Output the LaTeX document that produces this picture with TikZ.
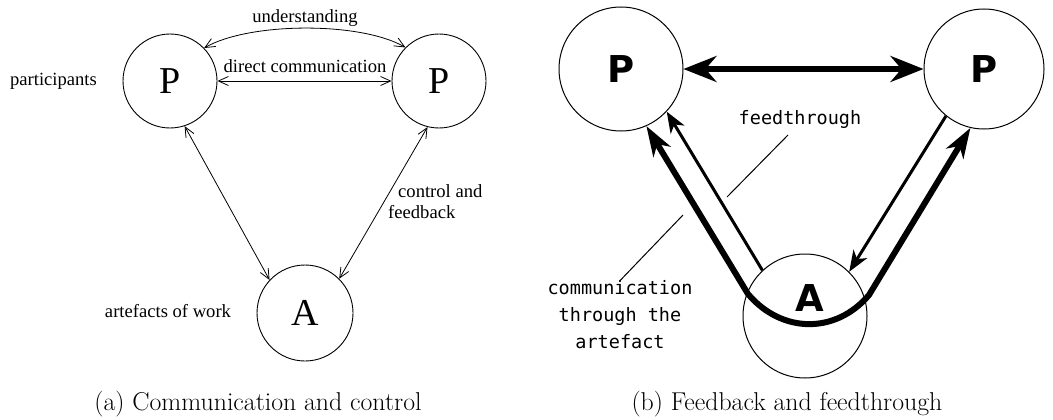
\documentclass[tikz,border=0pt]{standalone}
\usepackage{fontspec}
\newfontfamily\tms{Liberation Serif}
\newfontfamily\dvm{DejaVu Sans Mono}
\newfontfamily\dvs{DejaVu Sans}
\usetikzlibrary{arrows.meta}
\begin{document}
\begin{tikzpicture}[x=1pt,y=-1pt,
  circa/.style={circle,draw,line width=0.9pt,inner sep=0pt,minimum size=94pt,font={\tms\fontsize{38}{38}\selectfont}},
  lbla/.style={font={\tms\fontsize{18.6}{22}\selectfont},inner sep=0pt},
  arra/.style={line width=0.8pt,{Straight Barb[length=10pt,width=9pt]}-{Straight Barb[length=10pt,width=9pt]}},
  circb/.style={circle,draw,line width=1pt,inner sep=0pt,font={\dvs\bfseries\fontsize{37}{37}\selectfont}},
  lblb/.style={font={\dvm\fontsize{18.5}{27}\selectfont},inner sep=0pt,align=center},
  dbl/.style={line width=6.5pt,{Stealth[length=33pt,width=26pt,inset=11pt]}-{Stealth[length=33pt,width=26pt,inset=11pt]}},
  thk/.style={line width=6pt,line join=round,{Stealth[length=30pt,width=20pt,inset=9pt]}-{Stealth[length=30pt,width=20pt,inset=9pt]}},
  thn/.style={line width=3pt,-{Stealth[length=21pt,width=16pt,inset=6pt]}},
  lead/.style={line width=1pt},
  captxt/.style={font={\fontsize{25.8}{30}\selectfont},inner sep=0pt,anchor=base},
]
\useasboundingbox (0,0) rectangle (1053,420);
% ---------- (a) ----------
\node[circa] (Pa1) at (170,81) {P};
\node[circa] (Pa2) at (439,81) {P};
\node[circa,minimum size=96pt] (Aa) at (305,313) {A};
\draw[arra] (Pa1.44) .. controls +(45,-26) and +(-45,-26) .. (Pa2.135);
\draw[arra] (Pa1.east) -- (Pa2.west);
\draw[arra] (Pa1.-72) -- (Aa.137);
\draw[arra] (Pa2.-104) -- (Aa.45);
\node[lbla,anchor=base] (und) at (305,23) {understanding};
\node[lbla,anchor=base] (dc) at (305,73) {direct communication};
\node[lbla,anchor=base] (part) at (53.5,85) {participants};
\node[lbla,anchor=base] (art) at (168,317) {artefacts of work};
\node[lbla,anchor=base west] (ctl) at (398,197) {control and};
\node[lbla,anchor=base west] (fb) at (388,218) {feedback};
\node[captxt] (capa) at (258,410) {(a) Communication and control};
% ---------- (b) ----------
\node[circb,minimum size=124pt] (Pb1) at (621,69) {P};
\node[circb,minimum size=120pt] (Pb2) at (984,69) {P};
\node[circb,minimum size=124pt] (Ab) at (805,316) {};
\node[font={\dvs\bfseries\fontsize{37}{37}\selectfont},inner sep=0pt] (Abl) at (810,298) {A};
\draw[dbl] (Pb1.east) -- (Pb2.west);
\coordinate (L) at (748,294);
\coordinate (R) at (869,295);
\draw[thk] (Pb1.-66.6) -- (L) .. controls (782,334) and (836,334) .. (R) -- (Pb2.-103);
\draw[thn] (Ab.133) -- (Pb1.-43);
\draw[thn] (Pb2.-129) -- (Ab.45);
\node[lblb] (ft) at (800,119) {feedthrough};
\node[lblb] (comm) at (620,315) {communication\\through the\\artefact};
\coordinate (ftA) at (788,135);
\coordinate (ftB) at (727,197);
\draw[lead] (ftA) -- (ftB);
\coordinate (ctB) at (683,215);
\draw[lead] (comm.north) -- (ctB);
\node[captxt] (capb) at (787,410) {(b) Feedback and feedthrough};
\end{tikzpicture}
\end{document}
